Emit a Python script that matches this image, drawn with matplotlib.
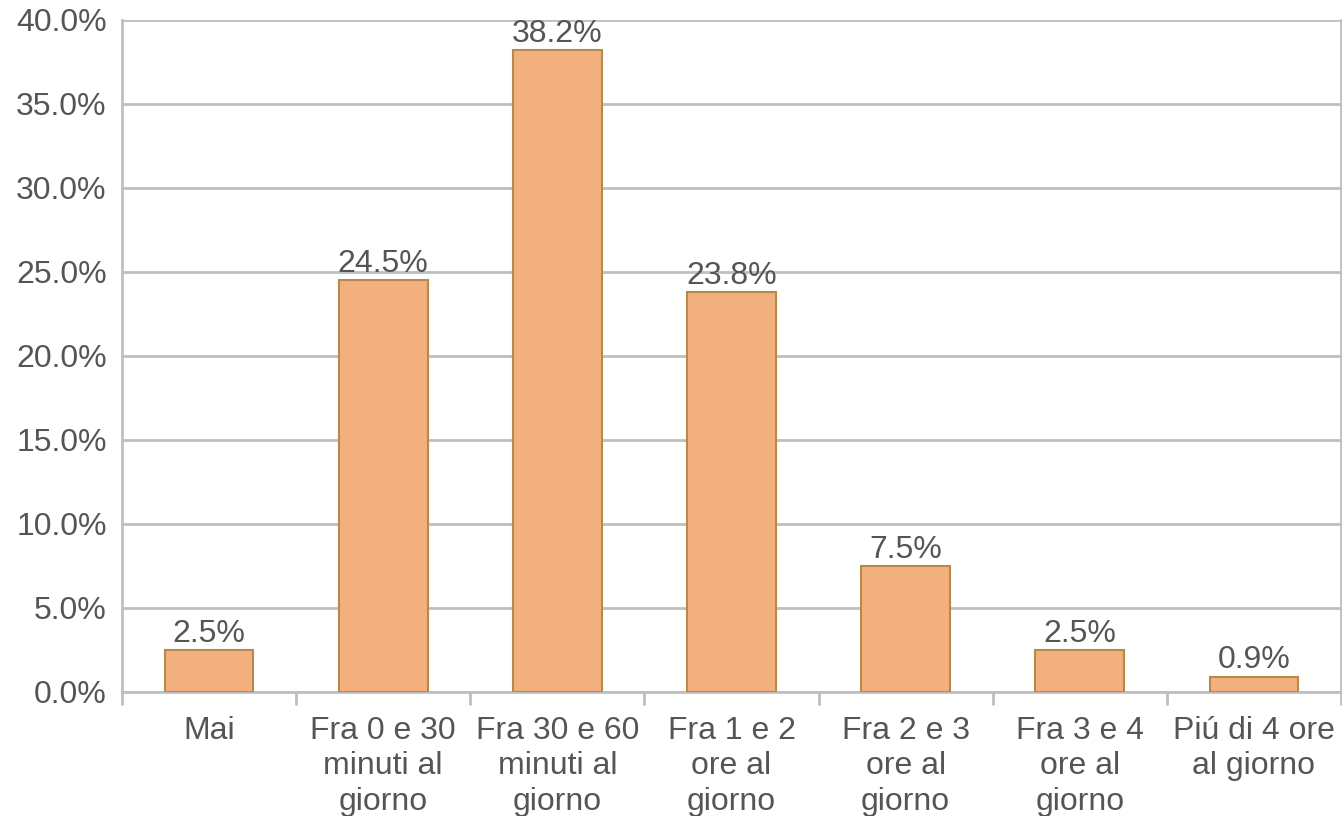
import matplotlib
matplotlib.use("Agg")
import matplotlib.pyplot as plt
from matplotlib.ticker import FuncFormatter, FixedLocator

plt.rcParams['font.family'] = ['Liberation Sans', 'DejaVu Sans']

categories = [
    "Mai",
    "Fra 0 e 30\nminuti al\ngiorno",
    "Fra 30 e 60\nminuti al\ngiorno",
    "Fra 1 e 2\nore al\ngiorno",
    "Fra 2 e 3\nore al\ngiorno",
    "Fra 3 e 4\nore al\ngiorno",
    "Piú di 4 ore\nal giorno",
]
values = [2.5, 24.5, 38.2, 23.8, 7.5, 2.5, 0.9]
yticks = [0, 5, 10, 15, 20, 25, 30, 35, 40]

text_color = "#555555"
grid_color = "#bfbfbf"
fs = 23

fig = plt.figure(figsize=(13.42, 8.16), dpi=100)
ax = fig.add_axes([0.0909, 0.152, 0.9084, 0.8235])

x = range(len(categories))
bars = ax.bar(x, values, width=0.51, color="#F2B07F", edgecolor="#B88A4A",
              linewidth=1.5, zorder=3)

for xi, v in zip(x, values):
    ax.annotate(f"{v:.1f}%", (xi, v), xytext=(0, 1), textcoords="offset points",
                ha="center", va="bottom", fontsize=fs, color=text_color, zorder=4)

ax.set_xlim(-0.5, len(categories) - 0.5)
ax.set_ylim(0, 40)
ax.set_yticks(yticks)
ax.yaxis.set_major_formatter(FuncFormatter(lambda v, p: f"{v:.1f}%"))
ax.yaxis.grid(True, color=grid_color, linewidth=2, zorder=0)
ax.tick_params(axis="y", length=0, labelsize=fs, labelcolor=text_color, pad=11)

# category labels centred, ticks at category boundaries
ax.set_xticks(list(x))
ax.set_xticklabels(categories, fontsize=fs, color=text_color, linespacing=1.24)
ax.tick_params(axis="x", which="major", length=0, pad=17)
ax.xaxis.set_minor_locator(FixedLocator([i - 0.5 for i in range(len(categories) + 1)]))
ax.tick_params(axis="x", which="minor", length=9, width=2, color=grid_color)

for side in ["left", "bottom", "right"]:
    ax.spines[side].set_color(grid_color)
    ax.spines[side].set_linewidth(2)
ax.spines["top"].set_visible(False)

fig.savefig("out.png", dpi=100, facecolor="white")
